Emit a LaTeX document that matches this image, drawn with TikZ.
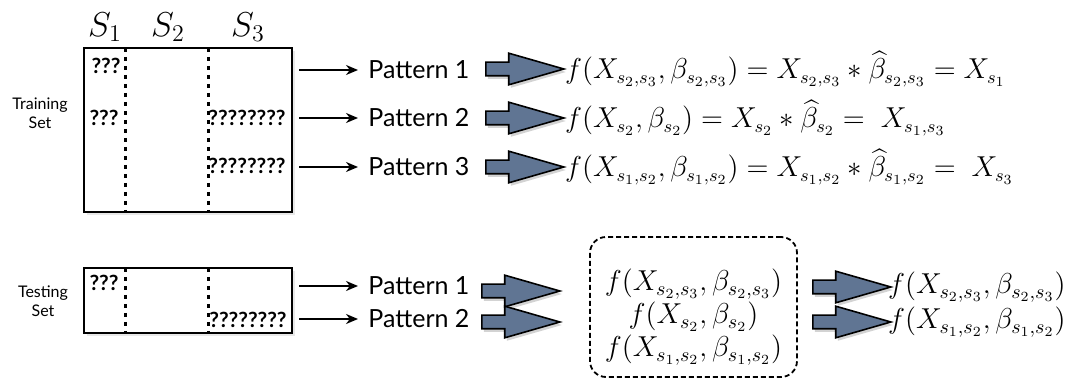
\documentclass[tikz,border=0pt]{standalone}
\usepackage{fontspec}
\setmainfont{Lato}
\usepackage{amsmath,amssymb}
\usepackage{tikz}
\usetikzlibrary{positioning, arrows.meta, shapes.arrows, shadows, calc}
\definecolor{slate}{RGB}{96,117,147}
\tikzset{
    setbox/.style={draw, line width=1.3pt, fill=white, drop shadow={opacity=0.18, shadow xshift=1.5pt, shadow yshift=-1.5pt}},
    sep/.style={line width=1.5pt, dash pattern=on 2pt off 2.5pt},
    qm/.style={font=\bfseries\fontsize{10.5}{10.5}\selectfont, inner sep=0pt},
    slabel/.style={font=\LARGE, inner sep=0pt},
    setlabel/.style={font=\footnotesize, align=center, inner sep=0pt},
    pat/.style={font=\fontsize{12.5}{14}\selectfont, inner sep=1pt, anchor=west},
    thinarrow/.style={-{Stealth[length=6pt, width=5pt]}, line width=1.1pt, shorten <=3pt, shorten >=4pt},
    fat/.style={single arrow, draw=black, line width=0.8pt, fill=slate, minimum height=39pt, minimum width=15pt,
        single arrow head extend=4.5pt, single arrow tip angle=32, inner sep=3pt,
        drop shadow={opacity=0.35, shadow xshift=1pt, shadow yshift=-1.5pt}},
    eq/.style={font=\fontsize{13.3}{16}\selectfont, inner sep=0pt, anchor=west}
}
\begin{document}
\begin{tikzpicture}[x=0.5pt, y=-0.5pt,
    pool/.style={draw, line width=0.9pt, dash pattern=on 2.5pt off 1.5pt, rounded corners=8pt,
        minimum width=103.5pt, minimum height=70pt},
    pooltext/.style={align=center, inner sep=0pt,
        font={\fontsize{14.6}{16.5}\selectfont\lineskiplimit=-10pt}},
    rhs/.style={font=\fontsize{14.4}{18}\selectfont, inner sep=0pt, anchor=west}]
\useasboundingbox (0,0) rectangle (1078,385);

\node[setbox, minimum width=104pt, minimum height=82pt] (train) at (188,130) {};
\draw[sep] (125,48) -- (125,212);
\draw[sep] (208,48) -- (208,212);
\node[slabel] (s1) at (105,27) {$S_1$};
\node[slabel] (s2) at (168,27) {$S_2$};
\node[slabel] (s3) at (248,27) {$S_3$};
\node[setlabel] (trainlbl) at (40,113) {Training\\Set};
\node[qm] (q1) at (106,66) {???};
\node[qm] (q2) at (104,118) {???};
\node[qm] (q3) at (247,118) {????????};
\node[qm] (q4) at (247,166) {????????};

\node[pat] (tp1) at (366,70) {Pattern 1};
\node[pat] (tp2) at (366,118) {Pattern 2};
\node[pat] (tp3) at (366,167) {Pattern 3};
\foreach \i in {1,2,3}
    \draw[thinarrow] (train.east |- tp\i) -- (tp\i);

\node[fat] (fa1) at (513,69) {};
\node[fat] (fa2) at (513,118) {};
\node[fat] (fa3) at (513,167) {};
\node[eq, right=-1pt of fa1] (eq1) {$f(X_{s_2,s_3},\beta_{s_2,s_3}) = X_{s_2,s_3} * \widehat{\beta}_{s_2,s_3} = X_{s_1}$};
\node[eq, right=-1pt of fa2] (eq2) {$f(X_{s_2},\beta_{s_2}) = X_{s_2} * \widehat{\beta}_{s_2} = \; X_{s_1,s_3}$};
\node[eq, right=-1pt of fa3] (eq3) {$f(X_{s_1,s_2},\beta_{s_1,s_2}) = X_{s_1,s_2} * \widehat{\beta}_{s_1,s_2} = \; X_{s_3}$};

\node[setbox, minimum width=104pt, minimum height=32.5pt] (test) at (188,300.5) {};
\draw[sep] (125,268) -- (125,333);
\draw[sep] (208,268) -- (208,333);
\node[setlabel] (testlbl) at (43,301) {Testing\\Set};
\node[qm] (q5) at (104,283) {???};
\node[qm] (q6) at (248,320) {????????};

\node[pat] (sp1) at (366,286) {Pattern 1};
\node[pat] (sp2) at (366,319) {Pattern 2};
\draw[thinarrow] (test.east |- sp1) -- (sp1);
\draw[thinarrow] (test.east |- sp2) -- (sp2);

\node[fat] (fb1) at (509,291) {};
\node[fat] (fb2) at (509,322) {};
\node[pool] (pool) at (693.5,307) {};
\node[pooltext] (poolfx) at ($(pool.center)+(0,10)$) {$f(X_{s_2,s_3},\beta_{s_2,s_3})$\\$f(X_{s_2},\beta_{s_2})$\\$f(X_{s_1,s_2},\beta_{s_1,s_2})$};

\node[fat] (fc1) at (840,287) {};
\node[fat] (fc2) at (840,322) {};
\node[rhs, right=-3pt of fc1] (out1) {$f(X_{s_2,s_3},\beta_{s_2,s_3})$};
\node[rhs, right=-3pt of fc2] (out2) {$f(X_{s_1,s_2},\beta_{s_1,s_2})$};
\end{tikzpicture}
\end{document}
